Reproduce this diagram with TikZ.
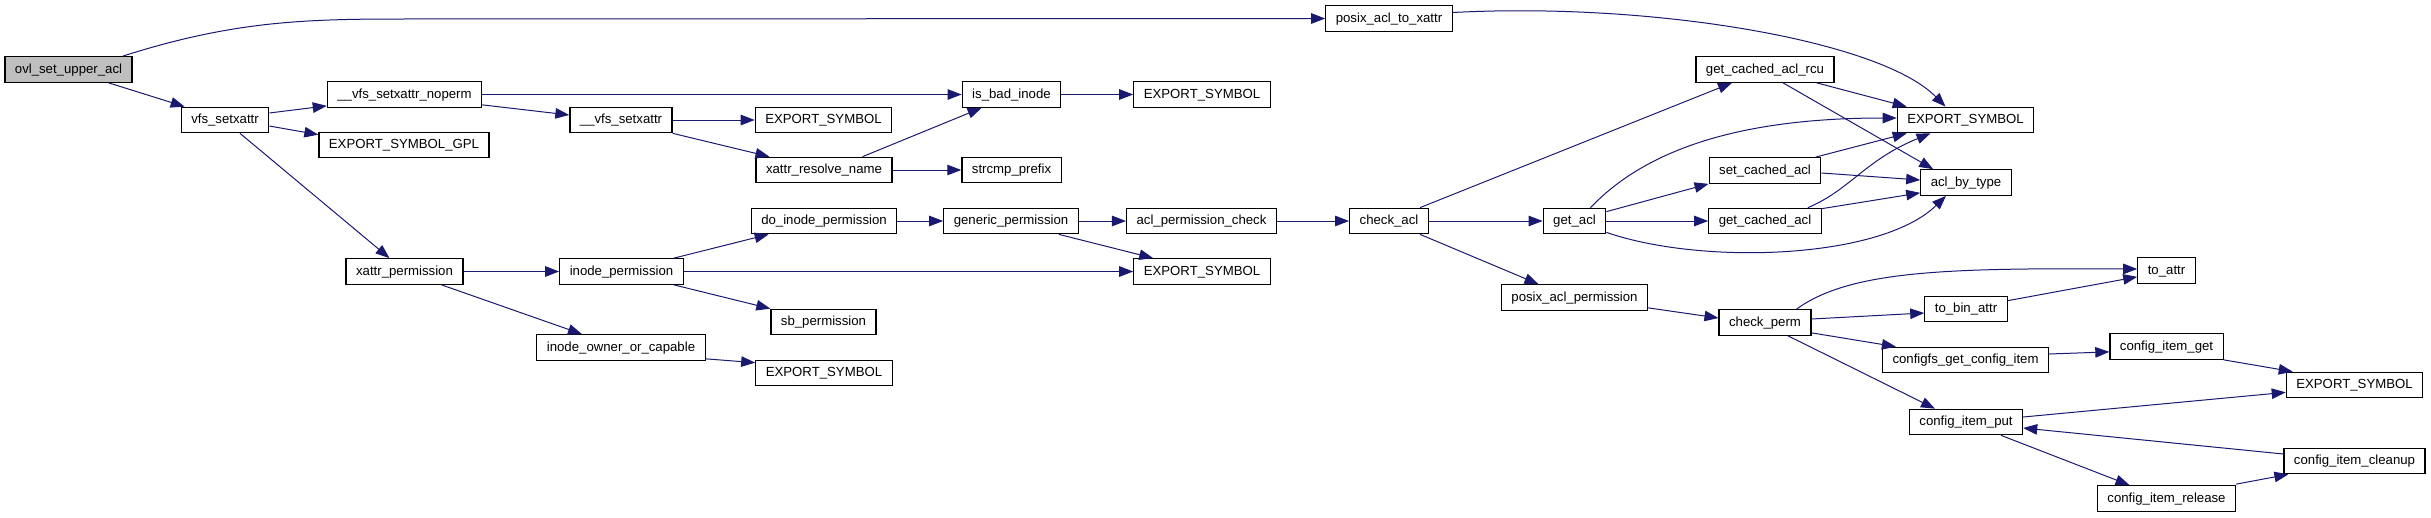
\documentclass[tikz,border=0pt]{standalone}
\usepackage{fontspec}
\setmainfont{Liberation Sans}
\usepackage{tikz}
\usetikzlibrary{arrows.meta}
\definecolor{edgeblue}{HTML}{191970}
\definecolor{rootgrey}{HTML}{BFBFBF}

\begin{document}
\begin{tikzpicture}[x=1pt,y=-1pt,
  fn/.style={draw=black,line width=1.2pt,fill=white,inner xsep=10pt,inner ysep=0pt,
    minimum height=25.5pt,text height=10pt,text depth=2.4pt,font=\fontsize{13.2}{15}\selectfont},
  root/.style={fn,fill=rootgrey},
  call/.style={edgeblue,line width=1pt,-{Triangle[length=14pt,width=10.5pt]}}]
  \useasboundingbox (0,0) rectangle (2431,517);
  \node[root] (ovl) at (68.5,69.5) {ovl\_set\_upper\_acl};
  \node[fn] (vfs) at (225,120) {vfs\_setxattr};
  \node[fn] (noperm) at (404.5,94.5) {\_\_vfs\_setxattr\_noperm};
  \node[fn] (gpl) at (404,145) {EXPORT\_SYMBOL\_GPL};
  \node[fn] (xperm) at (404.5,271.5) {xattr\_permission};
  \node[fn] (vfsset) at (621,120) {\_\_vfs\_setxattr};
  \node[fn] (inodeperm) at (621.5,271.5) {inode\_permission};
  \node[fn] (owner) at (621,347.5) {inode\_owner\_or\_capable};
  \node[fn] (symA) at (823.5,120) {EXPORT\_SYMBOL};
  \node[fn] (resolve) at (824,170) {xattr\_resolve\_name};
  \node[fn] (doinode) at (824,221) {do\_inode\_permission};
  \node[fn] (sbperm) at (823.5,322) {sb\_permission};
  \node[fn] (symD) at (824,373) {EXPORT\_SYMBOL};
  \node[fn] (isbad) at (1011.5,94.5) {is\_bad\_inode};
  \node[fn] (strcmp) at (1011.5,170) {strcmp\_prefix};
  \node[fn] (generic) at (1011,221) {generic\_permission};
  \node[fn] (symB) at (1202,94.5) {EXPORT\_SYMBOL};
  \node[fn] (aclcheck) at (1201.5,221) {acl\_permission\_check};
  \node[fn] (symC) at (1202,271.5) {EXPORT\_SYMBOL};
  \node[fn] (p2x) at (1389,18.5) {posix\_acl\_to\_xattr};
  \node[fn] (checkacl) at (1389,221) {check\_acl};
  \node[fn] (getacl) at (1574.5,221) {get\_acl};
  \node[fn] (posixperm) at (1574.5,297.5) {posix\_acl\_permission};
  \node[fn] (rcu) at (1765,69.5) {get\_cached\_acl\_rcu};
  \node[fn] (setcached) at (1765,170.5) {set\_cached\_acl};
  \node[fn] (getcached) at (1765,221) {get\_cached\_acl};
  \node[fn] (checkperm) at (1765,322.5) {check\_perm};
  \node[fn] (symE) at (1965.5,120) {EXPORT\_SYMBOL};
  \node[fn] (bytype) at (1966,182.5) {acl\_by\_type};
  \node[fn] (tobin) at (1966,309) {to\_bin\_attr};
  \node[fn] (cfsget) at (1965.5,360) {configfs\_get\_config\_item};
  \node[fn] (itemput) at (1966,422) {config\_item\_put};
  \node[fn] (toattr) at (2166.5,270.5) {to\_attr};
  \node[fn] (itemget) at (2166.5,346.5) {config\_item\_get};
  \node[fn] (release) at (2166.5,498.5) {config\_item\_release};
  \node[fn] (symF) at (2354.5,385) {EXPORT\_SYMBOL};
  \node[fn] (cleanup) at (2354.5,461) {config\_item\_cleanup};

  \draw[call] ([xshift=-10pt]ovl.north east) .. controls (230,22) and (300,19) .. (400,19) -- (p2x.west);
  \draw[call] ([xshift=-24pt]ovl.south east) -- ([xshift=4pt]vfs.north west);
  \draw[call] ([yshift=7pt]vfs.east) -- ([yshift=2pt]noperm.south west);
  \draw[call] ([yshift=-6pt]vfs.east) -- ([yshift=-3pt]gpl.north west);
  \draw[call] ([xshift=15pt]vfs.south) -- ([xshift=-15pt]xperm.north);
  \draw[call] (noperm) -- (isbad);
  \draw[call] ([yshift=3pt]noperm.south east) -- ([yshift=5pt]vfsset.west);
  \draw[call] (vfsset) -- (symA);
  \draw[call] (vfsset.south east) -- ([xshift=14pt]resolve.north west);
  \draw[call] (xperm) -- (inodeperm);
  \draw[call] ([xshift=37pt]xperm.south) -- ([xshift=-39pt]owner.north);
  \draw[call] ([xshift=-10pt]inodeperm.north east) -- ([xshift=18pt]doinode.south west);
  \draw[call] (inodeperm) -- (symC);
  \draw[call] ([xshift=-10pt]inodeperm.south east) -- (sbperm.north west);
  \draw[call] ([yshift=2pt]owner.south east) -- ([yshift=-3pt]symD.north west);
  \draw[call] (isbad) -- (symB);
  \draw[call] ([xshift=-30pt]resolve.north east) -- ([xshift=20pt]isbad.south west);
  \draw[call] (resolve) -- (strcmp);
  \draw[call] (doinode) -- (generic);
  \draw[call] (generic) -- (aclcheck);
  \draw[call] ([xshift=-20pt]generic.south east) -- ([xshift=20pt]symC.north west);
  \draw[call] (aclcheck) -- (checkacl);
  \draw[call] ([xshift=-9pt]checkacl.north east) -- ([xshift=-33pt]rcu.south);
  \draw[call] (checkacl) -- (getacl);
  \draw[call] ([xshift=-9pt]checkacl.south east) -- ([xshift=-36pt]posixperm.north);
  \draw[call] ([yshift=6pt]p2x.east) .. controls (1650,2) and (1880,40) .. ([xshift=-20pt]symE.north);
  \draw[call] ([xshift=-18pt]rcu.south east) -- ([xshift=10pt]symE.north west);
  \draw[call] ([xshift=18pt]rcu.south) -- ([xshift=13pt]bytype.north west);
  \draw[call] ([xshift=16pt]getacl.north) .. controls (1650,145) and (1750,118) .. ([yshift=2pt]symE.west);
  \draw[call] ([yshift=-4pt]getacl.north east) -- (setcached.south west);
  \draw[call] (getacl) -- (getcached);
  \draw[call] ([yshift=2pt]getacl.south east) .. controls (1700,265) and (1880,260) .. ([xshift=-20pt]bytype.south);
  \draw[call] ([xshift=-6pt]setcached.north east) -- ([xshift=10pt]symE.south west);
  \draw[call] ([yshift=-2.5pt]setcached.east) -- ([yshift=2.5pt]bytype.west);
  \draw[call] ([xshift=-14pt]getcached.north east) .. controls (1850,190) and (1865,160) .. ([xshift=-35pt]symE.south);
  \draw[call] ([yshift=-1pt]getcached.north east) -- ([yshift=3pt]bytype.south west);
  \draw[call] ([yshift=3pt]posixperm.south east) -- ([yshift=4.5pt]checkperm.west);
  \draw[call] ([xshift=-15pt]checkperm.north east) .. controls (1850,270) and (1950,268) .. ([yshift=1.5pt]toattr.west);
  \draw[call] ([yshift=3.5pt]checkperm.east) -- ([yshift=-4pt]tobin.west);
  \draw[call] ([yshift=-5pt]tobin.north east) -- ([yshift=7pt]toattr.south west);
  \draw[call] ([yshift=3pt]checkperm.south east) -- ([xshift=14pt]cfsget.north west);
  \draw[call] ([yshift=6pt]cfsget.east) -- ([yshift=8pt]itemget.south west);
  \draw[call] (itemget.south east) -- ([xshift=7pt]symF.north west);
  \draw[call] ([xshift=23pt]checkperm.south) -- ([xshift=-31pt]itemput.north);
  \draw[call] ([yshift=5pt]itemput.east) -- ([yshift=6pt]symF.south west);
  \draw[call] ([yshift=7pt]cleanup.west) -- ([yshift=-6pt]itemput.east);
  \draw[call] ([xshift=35pt]itemput.south) -- ([xshift=-37pt]release.north);
  \draw[call] ([yshift=1pt]release.north east) -- ([xshift=5pt]cleanup.south west);
\end{tikzpicture}
\end{document}
